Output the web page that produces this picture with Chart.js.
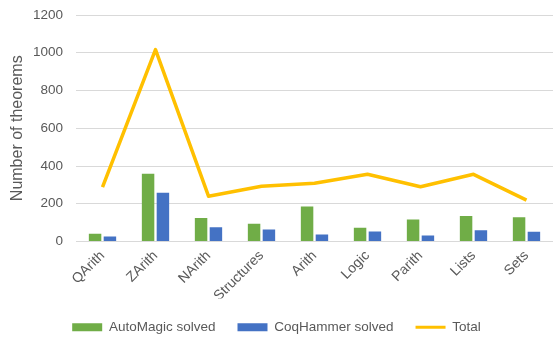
<!DOCTYPE html>
<html><head><meta charset="utf-8">
<script src="https://cdn.jsdelivr.net/npm/chart.js@4.4.0/dist/chart.umd.min.js"></script>
<style>html,body{margin:0;padding:0;background:#fff}#wrap{width:553px;height:337px}</style>
</head><body><div id="wrap"><canvas id="c" width="553" height="337"></canvas></div>
<script>
const categories = ["QArith","ZArith","NArith","Structures","Arith","Logic","Parith","Lists","Sets"];
const autoMagic = [41, 359, 124, 94, 185, 73, 117, 135, 128];
const coqHammer = [27, 258, 75, 64, 37, 53, 32, 60, 52];
const total = [288, 1017, 240, 293, 309, 356, 290, 356, 219];
const yTicks = [0, 200, 400, 600, 800, 1000, 1200];

const FONT = "'Liberation Sans', Arial, sans-serif";
Chart.defaults.font.family = FONT;
Chart.defaults.color = '#595959';

new Chart(document.getElementById('c'), {
  data: {
    labels: categories,
    datasets: [
      { type: 'line', label: 'Total', data: total, borderColor: '#FFC000', backgroundColor: '#FFC000',
        borderWidth: 3.5, pointRadius: 0, tension: 0, order: 0, borderJoinStyle: 'round' },
      { type: 'bar', label: 'AutoMagic solved', data: autoMagic, backgroundColor: '#70AD47', order: 1,
        categoryPercentage: 0.56, barPercentage: 0.84 },
      { type: 'bar', label: 'CoqHammer solved', data: coqHammer, backgroundColor: '#4472C4', order: 1,
        categoryPercentage: 0.56, barPercentage: 0.84 }
    ]
  },
  options: {
    responsive: false, animation: false,
    layout: { padding: { left: 0, right: 0, top: 15, bottom: -7 } },
    plugins: {
      tooltip: { enabled: false },
      legend: {
        position: 'bottom',
        labels: {
          font: { size: 13.5 }, color: '#595959',
          usePointStyle: true, pointStyleWidth: 30, boxWidth: 30, boxHeight: 8, padding: 22,
          generateLabels(chart) {
            const order = [1, 2, 0];
            return order.map(i => {
              const ds = chart.data.datasets[i];
              const isLine = ds.type === 'line';
              return {
                text: ds.label, datasetIndex: i,
                fillStyle: ds.backgroundColor, strokeStyle: isLine ? ds.borderColor : ds.backgroundColor,
                lineWidth: isLine ? 3 : 0, pointStyle: isLine ? 'line' : 'rect', fontColor: '#595959'
              };
            });
          }
        }
      }
    },
    scales: {
      x: {
        grid: { display: false, drawTicks: false },
        border: { display: true, color: '#D9D9D9', width: 1 },
        ticks: { minRotation: 45, maxRotation: 45, font: { size: 14 }, color: '#595959', padding: 6 },
        afterFit(axis) { axis.height = 57; axis.paddingLeft = 0; axis.paddingRight = 0; }
      },
      y: {
        min: 0, max: 1200,
        afterBuildTicks(axis) { axis.ticks = yTicks.map(v => ({ value: v })); },
        grid: { color: '#D9D9D9', lineWidth: 1, drawTicks: false },
        border: { display: false },
        ticks: { font: { size: 13.5 }, color: '#595959', padding: 13, callback: v => String(v) },
        title: { display: true, text: 'Number of theorems', font: { size: 16 }, color: '#595959', padding: 8 },
        afterFit(axis) { axis.width = 76; axis.paddingTop = 0; axis.paddingBottom = 0; }
      }
    }
  }
});
</script></body></html>
